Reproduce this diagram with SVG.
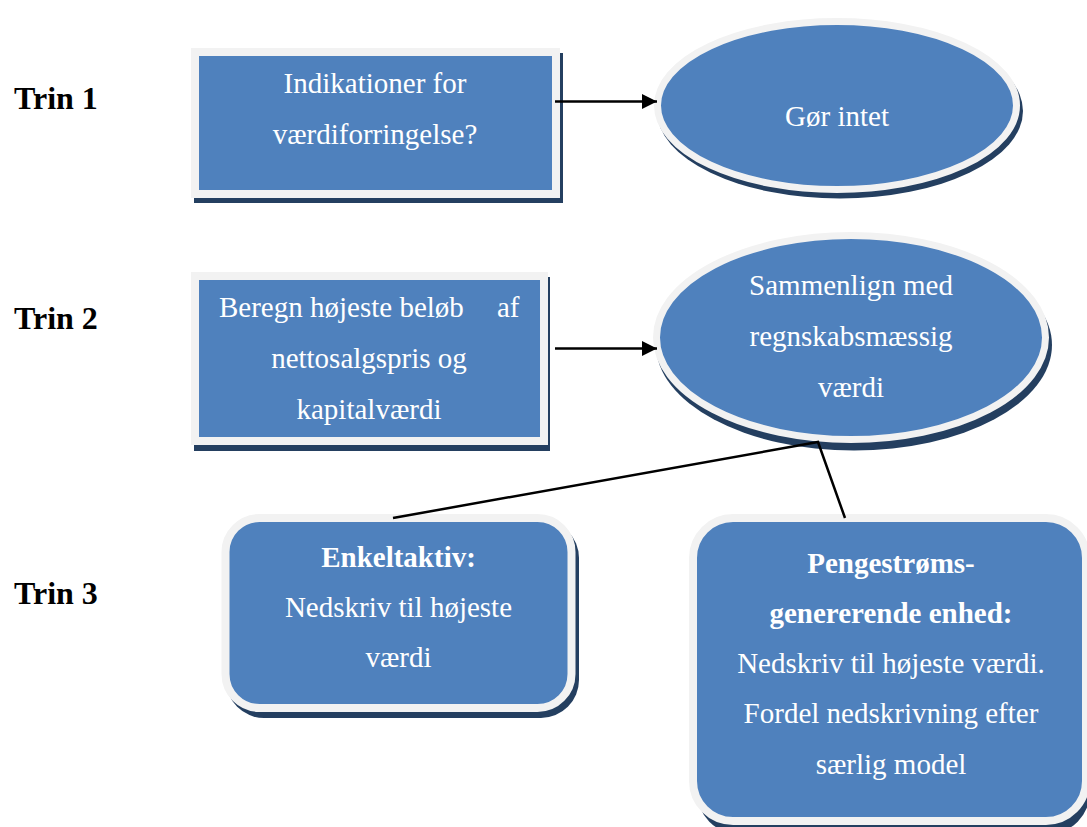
<svg xmlns="http://www.w3.org/2000/svg" width="1087" height="827" viewBox="0 0 1087 827">
  <defs>
    <style>
      .shadow { fill: #243F60; }
      .shape { fill: #4F81BD; stroke: #F2F2F2; stroke-width: 8; }
      .txt { font-family: "Liberation Serif", "Times New Roman", serif; font-size: 29px; fill: #FFFFFF; text-anchor: middle; }
      .bold { font-weight: bold; }
      .trin { font-family: "Liberation Serif", "Times New Roman", serif; font-size: 32px; font-weight: bold; fill: #000000; }
      .conn { fill: none; stroke: #000000; stroke-width: 2.5; }
    </style>
    <marker id="arrow" markerWidth="16" markerHeight="16" refX="15" refY="7.5" orient="auto" markerUnits="userSpaceOnUse">
      <path d="M0,0 L15,7.5 L0,15 Z" fill="#000000"/>
    </marker>
  </defs>
  <rect width="1087" height="827" fill="#FFFFFF"/>

  <g id="labels">
    <text class="trin" x="14" y="109">Trin 1</text>
    <text class="trin" x="14" y="329">Trin 2</text>
    <text class="trin" x="14" y="604">Trin 3</text>
  </g>

  <g id="node-indikationer">
    <rect class="shadow" x="194" y="53" width="369" height="150"/>
    <rect class="shape" x="195" y="52" width="361" height="142"/>
    <text class="txt" x="375" y="93">Indikationer for</text>
    <text class="txt" x="375" y="144">værdiforringelse?</text>
  </g>

  <g id="node-beregn">
    <rect class="shadow" x="194" y="277" width="356" height="174"/>
    <rect class="shape" x="195" y="276" width="349" height="165"/>
    <text class="txt" x="219" y="317" style="text-anchor:start">Beregn højeste beløb<tspan x="497">af</tspan></text>
    <text class="txt" x="369" y="368">nettosalgspris og</text>
    <text class="txt" x="369" y="419">kapitalværdi</text>
  </g>

  <g id="node-goer-intet">
    <ellipse class="shadow" cx="840" cy="111" rx="183" ry="87.5"/>
    <ellipse class="shape" cx="837" cy="105.5" rx="179.5" ry="84" style="stroke-width:7"/>
    <text class="txt" x="837" y="126">Gør intet</text>
  </g>

  <g id="node-sammenlign">
    <ellipse class="shadow" cx="854" cy="345" rx="198" ry="105.5"/>
    <ellipse class="shape" cx="851" cy="337.5" rx="194.5" ry="102" style="stroke-width:7"/>
    <text class="txt" x="851" y="295">Sammenlign med</text>
    <text class="txt" x="851" y="346">regnskabsmæssig</text>
    <text class="txt" x="851" y="397">værdi</text>
  </g>

  <g id="node-enkeltaktiv">
    <rect class="shadow" x="226" y="520" width="353" height="198" rx="38"/>
    <rect class="shape" x="225.5" y="518" width="346" height="190" rx="34"/>
    <text class="txt bold" x="398.5" y="567">Enkeltaktiv:</text>
    <text class="txt" x="398.5" y="617">Nedskriv til højeste</text>
    <text class="txt" x="398.5" y="667">værdi</text>
  </g>

  <g id="node-pengestroems">
    <rect class="shadow" x="697" y="524" width="393" height="310" rx="42"/>
    <rect class="shape" x="693" y="518" width="393" height="303" rx="40"/>
    <text class="txt bold" x="891" y="573">Pengestrøms-</text>
    <text class="txt bold" x="891" y="623">genererende enhed:</text>
    <text class="txt" x="891" y="673">Nedskriv til højeste værdi.</text>
    <text class="txt" x="891" y="723">Fordel nedskrivning efter</text>
    <text class="txt" x="891" y="774">særlig model</text>
  </g>

  <g id="connectors">
    <line class="conn" x1="555" y1="101.5" x2="657" y2="101.5" marker-end="url(#arrow)"/>
    <line class="conn" x1="555" y1="348.5" x2="657" y2="348.5" marker-end="url(#arrow)"/>
    <polyline class="conn" points="393,518 818,442 845,518"/>
  </g>
</svg>
